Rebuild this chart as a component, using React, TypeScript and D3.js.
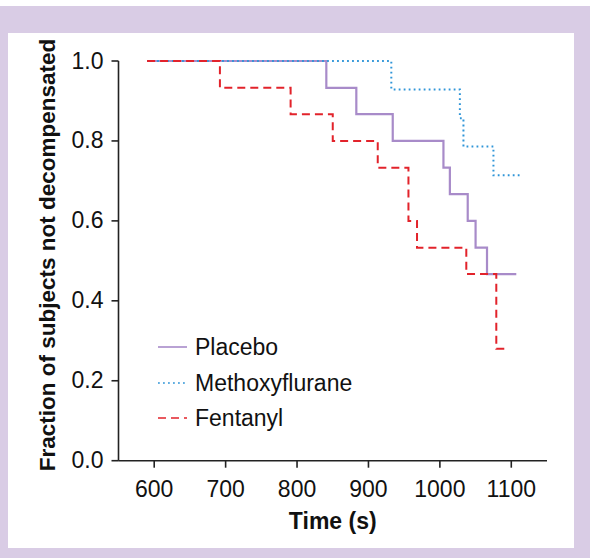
import React from "react";
import * as d3 from "d3";

// Kaplan-Meier style step data
const placeboTimes = [590, 841, 883, 934, 1005, 1014, 1039, 1050, 1066, 1107];
const placeboSurv = [1, 0.933, 0.867, 0.8, 0.733, 0.667, 0.6, 0.533, 0.467, 0.467];

const methoxyTimes = [590, 932, 1028, 1033, 1075, 1115];
const methoxySurv = [1, 0.929, 0.857, 0.786, 0.714, 0.714];

const fentanylTimes = [590, 692, 791, 850, 913, 956, 968, 1037, 1079, 1093];
const fentanylSurv = [1, 0.933, 0.867, 0.8, 0.733, 0.6, 0.533, 0.467, 0.28, 0.28];

const xTicks = [600, 700, 800, 900, 1000, 1100];
const yTicks = [0, 0.2, 0.4, 0.6, 0.8, 1.0];

const seriesNames = ["Placebo", "Methoxyflurane", "Fentanyl"];

const W = 590, H = 558;
const FONT = "'Liberation Sans', Arial, Helvetica, sans-serif";

const App = () => {
  const x = d3.scaleLinear().domain([550, 1150]).range([118.5, 547]);
  const y = d3.scaleLinear().domain([0, 1]).range([460.7, 61]);

  const line = d3.line<[number, number]>()
    .x((d) => x(d[0]))
    .y((d) => y(d[1]))
    .curve(d3.curveStepAfter);

  const zip = (t: number[], s: number[]) => t.map((v, i) => [v, s[i]] as [number, number]);

  const series = [
    { name: seriesNames[0], pts: zip(placeboTimes, placeboSurv), color: "#a88bc9", dash: "none", width: 2.2 },
    { name: seriesNames[1], pts: zip(methoxyTimes, methoxySurv), color: "#2f95d8", dash: "1.8,3.2", width: 2 },
    { name: seriesNames[2], pts: zip(fentanylTimes, fentanylSurv), color: "#e2232b", dash: "8,5", width: 2 },
  ];

  const axisColor = "#222";
  const legendY = [347, 383, 418];

  return (
    <div style={{ position: "fixed", left: 0, top: 0 }}>
      <svg width={W} height={H} style={{ display: "block" }}>
        <rect x={0} y={0} width={W} height={H} fill="#ffffff" />
        <rect x={0} y={6} width={W} height={H - 6} fill="#d9cce5" />
        <rect x={8} y={33} width={566} height={515} fill="#ffffff" />

        {/* lines */}
        {series.map((s) => (
          <path key={s.name} d={line(s.pts) || ""} fill="none" stroke={s.color}
            strokeWidth={s.width} strokeDasharray={s.dash} />
        ))}

        {/* y axis */}
        <line x1={x(550)} x2={x(550)} y1={y(0)} y2={y(1)} stroke={axisColor} strokeWidth={1.6} />
        {yTicks.map((t) => (
          <g key={t}>
            <line x1={x(550) - 7} x2={x(550)} y1={y(t)} y2={y(t)} stroke={axisColor} strokeWidth={1.6} />
            <text x={x(550) - 15} y={y(t) + 7.5} textAnchor="end" fontFamily={FONT} fontSize={23} fill="#111">
              {t.toFixed(1)}
            </text>
          </g>
        ))}

        {/* x axis */}
        <line x1={x(550)} x2={x(1150)} y1={y(0)} y2={y(0)} stroke={axisColor} strokeWidth={1.6} />
        {xTicks.map((t) => (
          <g key={t}>
            <line x1={x(t)} x2={x(t)} y1={y(0)} y2={y(0) + 7} stroke={axisColor} strokeWidth={1.6} />
            <text x={x(t)} y={497} textAnchor="middle" fontFamily={FONT} fontSize={23} fill="#111">
              {t}
            </text>
          </g>
        ))}

        {/* axis titles */}
        <text x={(x(550) + x(1150)) / 2} y={529} textAnchor="middle" fontFamily={FONT}
          fontSize={23} fontWeight="bold" fill="#111">Time (s)</text>
        <text transform={`translate(55,255) rotate(-90)`} textAnchor="middle" fontFamily={FONT}
          fontSize={22.5} fontWeight="bold" fill="#111">Fraction of subjects not decompensated</text>

        {/* legend */}
        {series.map((s, i) => (
          <g key={s.name}>
            <line x1={158} x2={187} y1={legendY[i]} y2={legendY[i]} stroke={s.color}
              strokeWidth={1.6} strokeDasharray={s.dash} />
            <text x={195} y={legendY[i] + 7.5} fontFamily={FONT} fontSize={23} fill="#111">{s.name}</text>
          </g>
        ))}
      </svg>
    </div>
  );
};

export default App;
